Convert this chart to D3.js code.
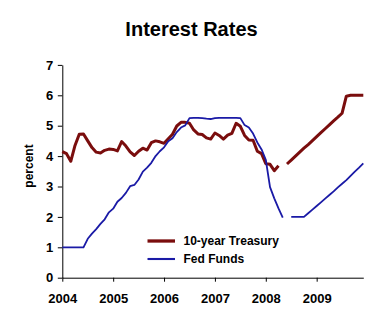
<!DOCTYPE html>
<html>
<head>
<meta charset="utf-8">
<script src="https://cdn.jsdelivr.net/npm/d3@7"></script>
<style>
  html, body { margin: 0; padding: 0; background: #fff; }
  svg { display: block; font-family: "Liberation Sans", Arial, sans-serif; }
</style>
</head>
<body>
<svg id="chart" width="385" height="327"></svg>
<script>
// Monthly observations, Jan 2004 .. Dec 2009 (72 months); null marks a break in the series
const startYear = 2004;
const yearLabels = ["2004", "2005", "2006", "2007", "2008", "2009"];
const yTicks = [0, 1, 2, 3, 4, 5, 6, 7];

const treasury = [
  // 2004
  4.15, 4.08, 3.83, 4.35, 4.72, 4.73, 4.50, 4.28, 4.13, 4.10, 4.19, 4.23,
  // 2005
  4.22, 4.17, 4.48, 4.33, 4.14, 4.02, 4.16, 4.26, 4.20, 4.44, 4.50, 4.47,
  // 2006
  4.42, 4.57, 4.72, 4.99, 5.11, 5.11, 5.08, 4.86, 4.73, 4.71, 4.60, 4.56,
  // 2007
  4.76, 4.68, 4.56, 4.69, 4.75, 5.08, 4.98, 4.68, 4.53, 4.52, 4.16, 4.08,
  // 2008
  3.75, 3.73, 3.52, 3.68, null, 3.74, 3.87, 4.00, 4.13, 4.26, 4.38, 4.51,
  // 2009
  4.64, 4.77, 4.90, 5.03, 5.16, 5.28, 5.41, 5.97, 6.00, 6.00, 6.00, 6.00
];

const fedFunds = [
  // 2004
  1.00, 1.00, 1.00, 1.00, 1.00, 1.00, 1.28, 1.45, 1.60, 1.77, 1.92, 2.15,
  // 2005
  2.27, 2.50, 2.62, 2.79, 3.01, 3.05, 3.23, 3.49, 3.62, 3.78, 4.00, 4.16,
  // 2006
  4.29, 4.49, 4.59, 4.79, 4.94, 5.01, 5.25, 5.26, 5.26, 5.25, 5.23, 5.22,
  // 2007
  5.25, 5.26, 5.26, 5.26, 5.26, 5.26, 5.25, 5.02, 4.94, 4.74, 4.45, 4.22,
  // 2008
  3.88, 2.98, 2.61, 2.28, 1.98, null, 2.00, 2.00, 2.00, 2.00, 2.12, 2.24,
  // 2009
  2.36, 2.48, 2.60, 2.72, 2.84, 2.97, 3.09, 3.21, 3.35, 3.49, 3.62, 3.76
];

const seriesNames = ["10-year Treasury", "Fed Funds"];
const seriesColors = ["#7a0d0d", "#1a1aa6"];
const seriesWidths = [3, 1.8];

const svg = d3.select("#chart");

const plot = { left: 62.3, right: 363.3, top: 64.9, bottom: 277.7 };

const x = d3.scaleLinear()
  .domain([0, treasury.length - 1])
  .range([plot.left, plot.right]);

const y = d3.scaleLinear()
  .domain([0, 7])
  .range([plot.bottom, plot.top]);

// Title
svg.append("text")
  .attr("x", 191.5)
  .attr("y", 36)
  .attr("text-anchor", "middle")
  .style("font-size", "20px")
  .style("font-weight", "bold")
  .text("Interest Rates");

// Y axis
const yAxis = svg.append("g")
  .attr("transform", `translate(${plot.left},0)`)
  .call(d3.axisLeft(y).tickValues(yTicks).tickFormat(d3.format("d"))
    .tickSize(4.5).tickPadding(4.5).tickSizeOuter(0));
yAxis.selectAll("text").style("font-size", "13px").style("font-weight", "bold").attr("fill", "#000");
yAxis.selectAll("line, path").attr("stroke", "#000");

// X axis
const xAxis = svg.append("g")
  .attr("transform", `translate(0,${plot.bottom})`)
  .call(d3.axisBottom(x)
    .tickValues(yearLabels.map((_, i) => i * 12))
    .tickFormat((d, i) => yearLabels[i])
    .tickSize(4).tickPadding(12).tickSizeOuter(0));
xAxis.selectAll("text").style("font-size", "13px").style("font-weight", "bold").attr("fill", "#000");
xAxis.selectAll("line, path").attr("stroke", "#000");

// Y axis title
svg.append("text")
  .attr("transform", "translate(32.5,166) rotate(-90)")
  .attr("text-anchor", "middle")
  .style("font-size", "12px")
  .style("font-weight", "bold")
  .text("percent");

// Series lines
const line = d3.line()
  .defined(d => d != null)
  .x((d, i) => x(i))
  .y(d => y(d));

[treasury, fedFunds].forEach((values, k) => {
  svg.append("path")
    .datum(values)
    .attr("fill", "none")
    .attr("stroke", seriesColors[k])
    .attr("stroke-width", seriesWidths[k])
    .attr("stroke-linejoin", "round")
    .attr("d", line);
});

// Legend
const legend = svg.append("g");
seriesNames.forEach((name, k) => {
  const ly = 241 + k * 18;
  legend.append("line")
    .attr("x1", 147.5).attr("x2", 175)
    .attr("y1", ly).attr("y2", ly)
    .attr("stroke", seriesColors[k])
    .attr("stroke-width", seriesWidths[k] + 0.3);
  legend.append("text")
    .attr("x", 183.5)
    .attr("y", ly)
    .attr("dy", "0.36em")
    .style("font-size", "12px")
    .style("font-weight", "bold")
    .text(name);
});
</script>
</body>
</html>
